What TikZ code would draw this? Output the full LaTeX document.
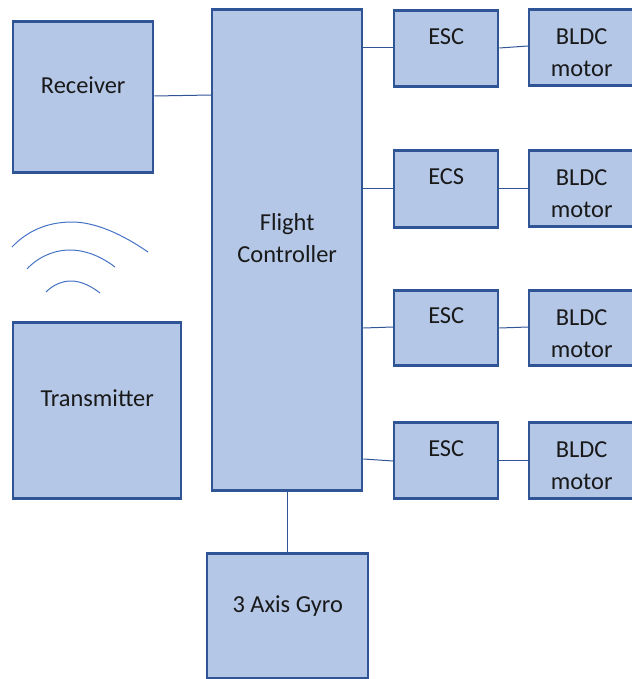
\documentclass[tikz,border=0pt]{standalone}
\usepackage{fontspec}
\setmainfont{Carlito}
\definecolor{boxfill}{HTML}{B4C7E7}
\definecolor{boxline}{HTML}{2F5597}
\definecolor{conn}{HTML}{4472C4}
\tikzset{x=1pt,y=-1pt,
 blk/.style={draw=boxline,fill=boxfill,line width=2.4pt,inner sep=0pt,align=center,font=\fontsize{24.4}{32}\selectfont,text=black!90},
 wire/.style={draw=boxline,line width=1pt},
 wave/.style={draw=conn,line width=1pt}}
\newcommand{\blkat}[6]{\node[blk,minimum width=#4pt-#2pt,minimum height=#5pt-#3pt,anchor=north west] (#1) at (#2,#3) {#6};}
\newcommand{\up}{\rule[-24pt]{0pt}{0pt}}
\newcommand{\down}{\rule{0pt}{27pt}}
\begin{document}
\begin{tikzpicture}
\useasboundingbox (0,0) rectangle (631,679);
\begin{scope}[shift={(-1,-0.7)}]
\blkat{rx}{13}{21}{153}{172}{Receiver\up}
\blkat{tx}{13}{322}{181}{498}{Transmitter\up}
\blkat{fc}{212}{9}{362}{490}{Flight\\Controller\up}
\blkat{gy}{207}{553}{368}{678}{3 Axis Gyro\up}
\blkat{e1}{394}{10}{498}{86}{ESC\up}
\blkat{e2}{394}{150}{498}{227}{ECS\up}
\blkat{e3}{394}{290}{498}{365}{ESC\up}
\blkat{e4}{394}{422}{498}{498}{ESC\up}
\blkat{m1}{529}{9}{634}{85}{\down BLDC\\motor}
\blkat{m2}{529}{150}{634}{226}{\down BLDC\\motor}
\blkat{m3}{529}{290}{634}{365}{\down BLDC\\motor}
\blkat{m4}{529}{422}{634}{498}{\down BLDC\\motor}
\draw[wire] (rx.east|-0,96.7) -- (fc.west|-0,95.7);
\draw[wire] (fc.east|-0,48.7) -- (e1.west|-0,48.7);
\draw[wire] (fc.east|-0,188.7) -- (e2.west|-0,188.7);
\draw[wire] (fc.east|-0,328.7) -- (e3.west|-0,327.7);
\draw[wire] (fc.east|-0,459.7) -- (e4.west|-0,461.7);
\draw[wire] (e1.east|-0,48.7) -- (m1.west|-0,46.7);
\draw[wire] (e2.east|-0,188.7) -- (m2.west|-0,188.7);
\draw[wire] (e3.east|-0,328.7) -- (m3.west|-0,327.7);
\draw[wire] (e4.east|-0,460.7) -- (m4.west|-0,460.7);
\draw[wire] (fc.south-|288,0) -- (gy.north-|288,0);
\end{scope}
\draw[wave] (12,247) .. controls (30,228) and (52,222) .. (72,222) .. controls (95,222) and (122,234) .. (148,252);
\draw[wave] (27,269) .. controls (38,257) and (54,250) .. (70,250) .. controls (86,250) and (102,257) .. (115,267);
\draw[wave] (46,292) .. controls (53,285) and (62,281) .. (71,281) .. controls (81,281) and (91,286) .. (100,293);
\end{tikzpicture}
\end{document}
